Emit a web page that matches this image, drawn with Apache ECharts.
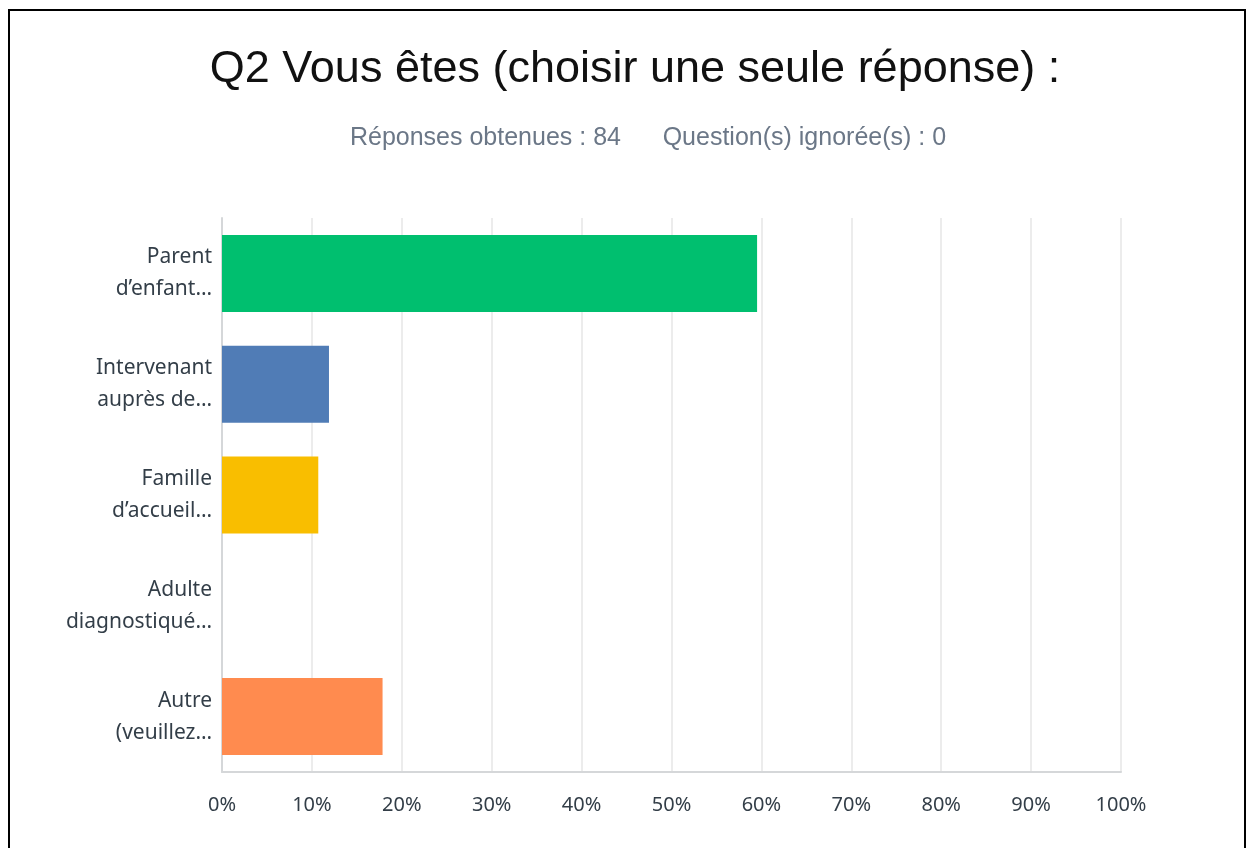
<!DOCTYPE html>
<html><head><meta charset="utf-8">
<script src="https://cdn.jsdelivr.net/npm/echarts@6/dist/echarts.min.js"></script>
<style>html,body{margin:0;padding:0;background:#fff}#c{width:1247px;height:848px}</style>
</head><body><div id="c"></div>
<script>
const titleText = 'Q2 Vous êtes (choisir une seule réponse) :';
const subtitleText = 'Réponses obtenues : 84      Question(s) ignorée(s) : 0';
const categories = ['Parent\nd’enfant…', 'Intervenant\nauprès de…', 'Famille\nd’accueil…', 'Adulte\ndiagnostiqué…', 'Autre\n(veuillez…'];
const values = [59.52, 11.90, 10.71, 0, 17.86];
const barColors = ['#00bf6f', '#507cb6', '#f9be00', '#6bc8cd', '#ff8b4f'];
const xTicks = [0, 10, 20, 30, 40, 50, 60, 70, 80, 90, 100];

const chart = echarts.init(document.getElementById('c'), null, {renderer: 'canvas'});
chart.setOption({
  animation: false,
  backgroundColor: '#fff',
  graphic: [
    {type: 'rect', shape: {x: 9, y: 10, width: 1236, height: 860}, style: {fill: 'none', stroke: '#000', lineWidth: 2}, silent: true},
    {type: 'text', x: 635, y: 70, style: {text: titleText, textAlign: 'center', textVerticalAlign: 'middle', font: '45px "Liberation Sans"', fill: '#111'}},
    {type: 'text', x: 648, y: 138, style: {text: subtitleText, textAlign: 'center', textVerticalAlign: 'middle', font: '25px "Liberation Sans"', fill: '#6b7787'}}
  ],
  grid: {left: 222, right: 126, top: 218, bottom: 76, containLabel: false},
  xAxis: {
    type: 'value', min: 0, max: 100, interval: 10,
    axisLine: {show: true, lineStyle: {color: '#d5d7d9', width: 2}},
    axisTick: {show: false},
    splitLine: {show: true, lineStyle: {color: '#ececec', width: 2}},
    axisLabel: {formatter: v => xTicks.includes(v) ? v + '%' : '', margin: 23, fontFamily: 'Noto Sans', fontSize: 20, color: '#333e48'}
  },
  yAxis: {
    type: 'category', data: categories, inverse: true,
    axisLine: {show: true, lineStyle: {color: '#d5d7d9', width: 2}},
    axisTick: {show: false},
    axisLabel: {fontFamily: 'Noto Sans', fontSize: 21, lineHeight: 32, color: '#333e48', margin: 10, align: 'right'}
  },
  series: [{
    type: 'bar', barWidth: 77,
    data: values.map((v, i) => ({value: v, itemStyle: {color: barColors[i]}}))
  }]
});
</script></body></html>
